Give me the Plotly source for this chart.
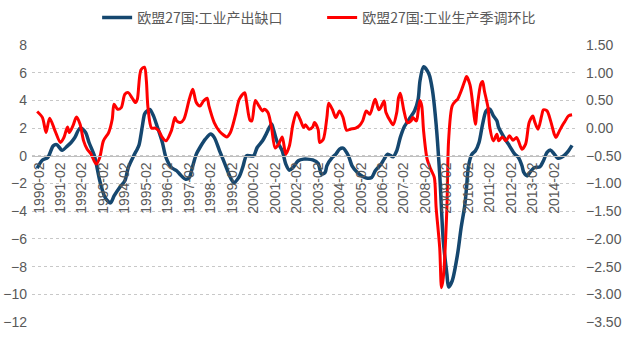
import plotly.graph_objects as go

# 欧盟27国:工业产出缺口 (left axis)
gap_dates = ["1990-01","1990-04","1990-07","1990-10","1990-12","1991-03","1991-06","1991-08","1991-10",
    "1992-01","1992-04","1992-06","1992-09","1992-12","1993-03","1993-06","1993-08","1993-11",
    "1994-02","1994-04","1994-07","1994-09","1994-10","1994-11","1994-12","1995-01","1995-02","1995-04",
    "1995-06","1995-08","1995-11","1996-01","1996-04","1996-07","1996-09","1996-12","1997-02","1997-04",
    "1997-06","1997-08","1997-11","1998-02","1998-04","1998-07","1998-10","1999-01","1999-03","1999-06",
    "1999-08","1999-10","1999-12","2000-02","2000-04","2000-07","2000-09","2000-12","2001-01","2001-03",
    "2001-06","2001-08","2001-10","2001-12","2002-03","2002-06","2002-08","2002-11","2003-02","2003-04",
    "2003-06","2003-07","2003-10","2003-12","2004-02","2004-04","2004-07","2004-09","2004-12","2005-03",
    "2005-05","2005-08","2005-10","2006-01","2006-03","2006-05","2006-08","2006-10","2006-12","2007-02",
    "2007-05","2007-08","2007-10","2007-11","2008-01","2008-04","2008-06","2008-08","2008-10","2008-12",
    "2009-02","2009-03","2009-05","2009-08","2009-10","2009-12","2010-01","2010-02","2010-04","2010-06",
    "2010-08","2010-10","2010-12","2011-02","2011-04","2011-06","2011-07","2011-10","2012-01","2012-04",
    "2012-06","2012-08","2012-09","2012-11","2012-12","2013-03","2013-06","2013-08","2013-10","2013-12",
    "2014-02","2014-04","2014-06","2014-08","2014-10","2014-12"]
gap_values = [-0.9,-0.3,-0.12,0.72,0.8,0.4,0.72,0.96,1.3,
    2.0,1.7,0.96,0.0,-1.8,-3.0,-3.4,-2.9,-2.3,
    -1.8,-0.84,0.0,0.5,0.8,1.5,2.3,3.0,3.2,3.35,
    2.9,2.17,0.96,-0.12,-0.84,-1.08,-1.37,-1.69,-1.57,-0.72,
    0.12,0.6,1.2,1.57,1.33,0.36,-0.6,-1.57,-1.93,-1.5,
    -0.8,0.0,0.0,0.0,0.6,1.08,1.57,2.29,1.93,1.08,
    0.36,-0.6,-1.04,-0.84,-0.36,-0.24,-0.24,-0.3,-0.55,-1.33,
    -1.2,-0.72,-0.12,0.12,0.48,0.55,0.0,-0.72,-1.2,-1.5,
    -1.6,-1.57,-1.08,-0.65,-0.24,0.12,-0.07,0.36,1.33,2.05,
    2.65,3.25,4.1,5.42,6.43,5.9,4.7,2.29,-1.33,-6.14,
    -8.55,-9.47,-9.04,-7.1,-5.18,-3.6,-2.3,-0.8,0.1,0.36,
    0.96,2.29,3.25,3.37,2.9,2.53,2.05,1.33,0.72,0.12,
    -0.12,-0.72,-1.2,-1.45,-1.28,-0.84,-0.8,-0.36,0.24,0.41,
    0.12,-0.17,-0.12,0.07,0.36,0.75]

# 欧盟27国:工业生产季调环比 (right axis)
mom_dates = ["1990-01","1990-04","1990-06","1990-08","1990-11","1991-02","1991-04","1991-06","1991-07","1991-09",
    "1991-11","1992-01","1992-03","1992-05","1992-07","1992-10","1992-12","1993-02","1993-05","1993-07",
    "1993-08","1993-10","1993-12","1994-02","1994-04","1994-06","1994-08","1994-09","1994-11","1995-01",
    "1995-02","1995-03","1995-05","1995-07","1995-09","1995-11","1996-01","1996-04","1996-06","1996-07",
    "1996-09","1996-11","1997-02","1997-04","1997-06","1997-08","1997-10","1997-12","1998-01","1998-04",
    "1998-07","1998-09","1998-11","1999-01","1999-04","1999-06","1999-09","1999-10","1999-12","2000-01",
    "2000-03","2000-05","2000-07","2000-08","2000-10","2000-12","2001-02","2001-04","2001-06","2001-08",
    "2001-10","2001-12","2002-02","2002-04","2002-06","2002-07","2002-09","2002-11","2002-12","2003-02",
    "2003-03","2003-05","2003-07","2003-08","2003-10","2003-12","2004-02","2004-04","2004-06","2004-08",
    "2004-11","2005-01","2005-03","2005-05","2005-07","2005-09","2005-10","2005-12","2006-01","2006-03",
    "2006-04","2006-07","2006-08","2006-10","2006-11","2006-12","2007-02","2007-04","2007-06","2007-07",
    "2007-09","2007-10","2007-11","2007-12","2008-01","2008-03","2008-05","2008-07","2008-08","2008-10",
    "2008-11","2008-12","2009-02","2009-03","2009-05","2009-07","2009-08","2009-10","2009-12","2010-01",
    "2010-03","2010-05","2010-06","2010-07","2010-09","2010-10","2010-11","2011-01","2011-02","2011-04",
    "2011-06","2011-07","2011-09","2011-11","2012-01","2012-03","2012-05","2012-06","2012-08","2012-10",
    "2012-12","2013-02","2013-03","2013-05","2013-07","2013-08","2013-10","2013-12","2014-02","2014-03",
    "2014-05","2014-07","2014-08","2014-10","2014-12"]
mom_values = [0.3,0.19,-0.08,0.18,-0.05,-0.26,-0.17,0.02,-0.08,0.04,
    0.2,0.07,-0.23,-0.38,-0.46,-0.65,-0.53,-0.23,-0.08,0.16,
    0.43,0.34,0.37,0.61,0.64,0.55,0.46,0.52,1.05,1.1,
    0.86,0.37,0.0,0.0,-0.05,-0.17,-0.23,-0.05,0.19,0.13,
    0.1,0.16,0.52,0.7,0.46,0.4,0.49,0.54,0.4,0.1,
    -0.06,-0.12,-0.16,-0.08,0.25,0.52,0.64,0.49,0.14,0.13,
    0.5,0.4,0.31,0.34,0.28,0.01,-0.36,-0.29,-0.16,-0.47,
    -0.32,0.07,0.28,0.16,0.01,0.06,-0.02,0.02,0.1,-0.02,
    -0.26,-0.2,0.19,0.45,0.34,0.19,0.31,0.19,-0.04,-0.02,
    0.0,0.04,0.13,0.31,0.25,0.45,0.52,0.33,0.37,0.49,
    0.28,0.1,0.06,0.28,0.55,0.63,0.31,0.1,0.13,0.19,
    0.13,0.31,0.5,0.4,-0.05,-0.56,-0.74,-0.89,-1.43,-2.16,
    -2.88,-2.7,-1.43,-0.23,0.4,0.49,0.52,0.67,0.85,0.93,
    0.78,0.3,0.07,0.37,0.8,0.84,0.67,0.37,0.01,-0.23,
    -0.11,-0.23,-0.16,-0.23,-0.14,-0.22,-0.17,-0.23,-0.38,-0.29,
    0.1,0.22,0.13,-0.02,0.22,0.33,0.31,0.13,-0.11,-0.17,
    -0.05,0.07,0.12,0.22,0.24]

gap_name = "欧盟27国:工业产出缺口"
mom_name = "欧盟27国:工业生产季调环比"

left_ticks = list(range(-12, 9, 2))
right_ticks = [-3.5, -3.0, -2.5, -2.0, -1.5, -1.0, -0.5, 0.0, 0.5, 1.0, 1.5]

fig = go.Figure()
fig.add_trace(go.Scatter(x=gap_dates, y=gap_values, name=gap_name, mode="lines",
                         line=dict(color="#15476f", width=3.5, shape="spline", smoothing=0.8),
                         yaxis="y"))
fig.add_trace(go.Scatter(x=mom_dates, y=mom_values, name=mom_name, mode="lines",
                         line=dict(color="#ff0000", width=3, shape="spline", smoothing=0.8),
                         yaxis="y2"))

tickfont = dict(family="Liberation Sans, Arial, sans-serif", size=14, color="#595959")

fig.update_layout(
    width=639, height=339,
    margin=dict(l=32, r=64, t=45, b=17, autoexpand=False),
    paper_bgcolor="white", plot_bgcolor="white",
    showlegend=True,
    legend=dict(orientation="h", xref="container", x=0.152, xanchor="left",
                yref="container", y=0.947, yanchor="middle",
                entrywidth=180,
                font=dict(family="Noto Sans CJK SC, sans-serif", size=14, color="#595959"),
                bgcolor="rgba(0,0,0,0)"),
    xaxis=dict(type="date", range=["1989-10-05", "2015-01-20"],
               tick0="1990-02-01", dtick="M12", tickformat="%Y-%m",
               tickangle=-90, tickfont=tickfont, showgrid=False,
               showline=True, linecolor="#bfbfbf", linewidth=1, ticks="",
               anchor="free", position=0.6, zeroline=False),
    yaxis=dict(range=[-12, 8], tickvals=left_ticks, tickfont=tickfont,
               showgrid=True, gridcolor="#c8c8c8", griddash="dot", gridwidth=1,
               zeroline=False, showline=False, ticks="", ticklabelstandoff=4),
    yaxis2=dict(range=[-3.5, 1.5], tickvals=right_ticks, tickformat=".2f",
                overlaying="y", side="right", tickfont=tickfont,
                showgrid=False, zeroline=False, showline=False, ticks="",
                ticklabelstandoff=10),
)

fig.write_html("out.html")
